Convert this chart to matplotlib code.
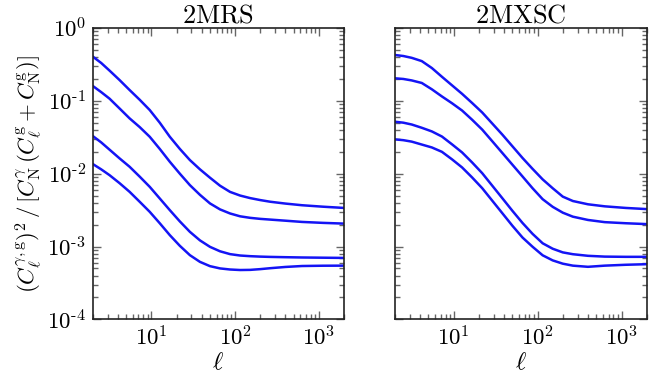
import numpy as np
import matplotlib
matplotlib.use("Agg")
import matplotlib.pyplot as plt
from matplotlib.ticker import FuncFormatter, LogLocator

plt.rcParams['mathtext.fontset'] = 'cm'
plt.rcParams['font.family'] = ['DejaVu Serif']

titles = ["2MRS", "2MXSC"]

# log10 of multipole ell, shared sampling for both panels
log_ell = [0.301, 0.40, 0.50, 0.62, 0.74, 0.86, 0.98, 1.10, 1.22, 1.34, 1.46, 1.58,
           1.70, 1.82, 1.94, 2.06, 2.18, 2.30, 2.42, 2.6, 2.8, 3.05, 3.301]

# log10 of the ratio for four curves in each panel
snr_2mrs = [
    [-0.394, -0.48, -0.585, -0.715, -0.852, -0.985, -1.126, -1.30, -1.493, -1.66, -1.813, -1.94,
     -2.055, -2.165, -2.25, -2.30, -2.335, -2.362, -2.385, -2.41, -2.433, -2.453, -2.470],
    [-0.797, -0.88, -0.97, -1.105, -1.241, -1.36, -1.493, -1.66, -1.836, -2.00, -2.157, -2.29,
     -2.408, -2.49, -2.546, -2.585, -2.606, -2.62, -2.63, -2.645, -2.662, -2.675, -2.685],
    [-1.484, -1.57, -1.67, -1.79, -1.905, -2.04, -2.180, -2.34, -2.500, -2.655, -2.798, -2.915,
     -3.004, -3.065, -3.104, -3.123, -3.132, -3.138, -3.142, -3.146, -3.150, -3.153, -3.156],
    [-1.868, -1.94, -2.02, -2.13, -2.249, -2.385, -2.523, -2.68, -2.843, -2.99, -3.118, -3.21,
     -3.269, -3.30, -3.315, -3.322, -3.320, -3.31, -3.297, -3.28, -3.267, -3.263, -3.262],
]
snr_2mxsc = [
    [-0.371, -0.385, -0.41, -0.455, -0.55, -0.67, -0.787, -0.904, -1.03, -1.16, -1.312, -1.464,
     -1.624, -1.784, -1.934, -2.078, -2.20, -2.315, -2.375, -2.42, -2.448, -2.47, -2.486],
    [-0.691, -0.70, -0.72, -0.755, -0.842, -0.94, -1.033, -1.133, -1.26, -1.395, -1.555, -1.716,
     -1.877, -2.038, -2.20, -2.35, -2.455, -2.535, -2.59, -2.635, -2.665, -2.68, -2.692],
    [-1.287, -1.30, -1.325, -1.37, -1.42, -1.49, -1.597, -1.708, -1.846, -1.993, -2.165, -2.337,
     -2.51, -2.676, -2.826, -2.955, -3.03, -3.08, -3.105, -3.127, -3.138, -3.141, -3.141],
    [-1.529, -1.54, -1.56, -1.60, -1.64, -1.70, -1.803, -1.914, -2.052, -2.199, -2.371, -2.543,
     -2.715, -2.876, -3.003, -3.12, -3.19, -3.235, -3.262, -3.278, -3.262, -3.25, -3.242],
]

xlim = (2, 2000)
ylim = (1e-4, 1)


def pow_fmt(v, pos):
    e = int(round(np.log10(v)))
    if e < 0:
        return r'$10^{\text{-}%d}$' % (-e)
    return r'$10^{%d}$' % e


fig = plt.figure(figsize=(6.54, 3.83), dpi=100)
ax1 = fig.add_axes([0.142, 0.166, 0.384, 0.761])
ax2 = fig.add_axes([0.604, 0.166, 0.385, 0.761])

ell = 10 ** np.array(log_ell)
for ax, title, curves in [(ax1, titles[0], snr_2mrs), (ax2, titles[1], snr_2mxsc)]:
    for c in curves:
        ax.plot(ell, 10 ** np.array(c), color='#1414f5', lw=1.8)
    ax.set_xscale('log')
    ax.set_yscale('log')
    ax.set_xlim(*xlim)
    ax.set_ylim(*ylim)
    ax.yaxis.set_major_locator(LogLocator(base=10, numticks=10))
    ax.yaxis.set_major_formatter(FuncFormatter(pow_fmt))
    ax.xaxis.set_major_formatter(FuncFormatter(pow_fmt))
    ax.set_title(r'$\mathrm{%s}$' % title, fontsize=19, pad=2)
    ax.set_xlabel(r'$\ell$', fontsize=18, labelpad=0)
    ax.tick_params(which='both', direction='in', top=True, right=True,
                   color='#666666', labelsize=16.5)
    ax.tick_params(which='major', length=6, width=1, pad=5)
    ax.tick_params(which='minor', length=3.5, width=1)
    for s in ax.spines.values():
        s.set_color('#222222')
        s.set_linewidth(1.2)

ax2.tick_params(labelleft=False)
ax1.set_ylabel(r'$(C_\ell^{\gamma,{\rm g}})^2\,/\,[C_{\rm N}^{\gamma}\,(C_\ell^{\rm g}+C_{\rm N}^{\rm g})]$',
               fontsize=16.5, labelpad=2)

fig.savefig('out.png', dpi=100)
